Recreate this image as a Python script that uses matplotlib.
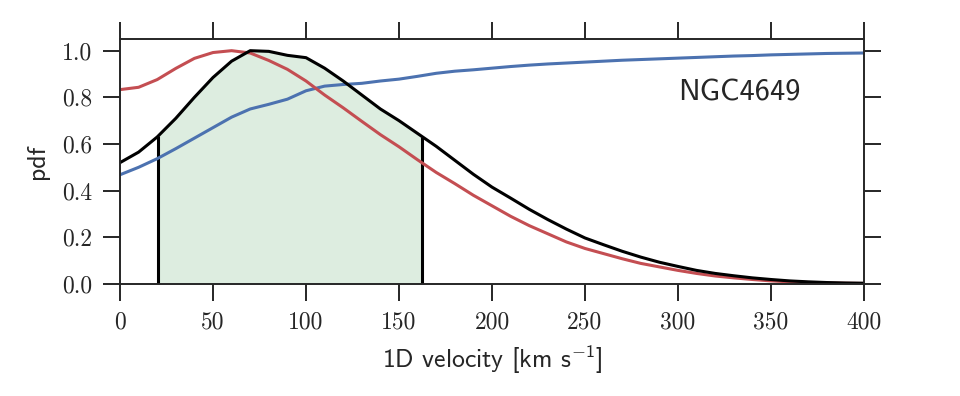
import matplotlib
matplotlib.use("Agg")
import matplotlib.pyplot as plt
import numpy as np

# velocity grid (km/s) and curves
velocity = [0, 10, 20, 30, 40, 50, 60, 70, 80, 90, 100, 110, 120, 130, 140, 150,
            160, 170, 180, 190, 200, 210, 220, 230, 240, 250, 260, 270, 280, 290,
            300, 310, 320, 330, 340, 350, 360, 370, 380, 390, 400]

pdf_black = [0.52, 0.565, 0.63, 0.71, 0.80, 0.885, 0.955, 1.0, 0.997, 0.98, 0.97,
             0.925, 0.87, 0.81, 0.75, 0.70, 0.645, 0.59, 0.53, 0.47, 0.415, 0.368,
             0.32, 0.276, 0.235, 0.197, 0.168, 0.14, 0.115, 0.093, 0.075, 0.058,
             0.045, 0.035, 0.026, 0.019, 0.013, 0.009, 0.006, 0.004, 0.003]

pdf_red = [0.833, 0.843, 0.876, 0.924, 0.967, 0.992, 1.0, 0.99, 0.958, 0.92, 0.87,
           0.81, 0.755, 0.697, 0.64, 0.588, 0.532, 0.478, 0.43, 0.38, 0.335, 0.29,
           0.25, 0.215, 0.18, 0.152, 0.13, 0.108, 0.088, 0.073, 0.058, 0.045,
           0.034, 0.026, 0.019, 0.013, 0.009, 0.006, 0.004, 0.003, 0.002]

cdf_blue = [0.468, 0.50, 0.537, 0.58, 0.625, 0.67, 0.715, 0.75, 0.77, 0.792, 0.828,
            0.848, 0.855, 0.86, 0.87, 0.878, 0.89, 0.903, 0.912, 0.918, 0.925,
            0.932, 0.938, 0.943, 0.947, 0.951, 0.955, 0.959, 0.962, 0.965, 0.968,
            0.971, 0.974, 0.977, 0.979, 0.982, 0.984, 0.986, 0.988, 0.989, 0.99]

interval_lo = 20.5
interval_hi = 162.5

plt.rcParams["axes.edgecolor"] = "#262626"
plt.rcParams["axes.linewidth"] = 1.4
plt.rcParams["mathtext.fontset"] = "custom"
plt.rcParams["mathtext.rm"] = "cmss10"
plt.rcParams["mathtext.it"] = "cmss10"
plt.rcParams["mathtext.sf"] = "cmss10"

fig = plt.figure(figsize=(9.6, 3.96), dpi=100)
ax = fig.add_axes([0.125, 0.283, 0.775, 0.6185])

v = np.array(velocity)
pb = np.array(pdf_black)
mask = (v >= interval_lo) & (v <= interval_hi)
vf = np.concatenate([[interval_lo], v[mask], [interval_hi]])
pf = np.interp(vf, v, pb)
ax.fill_between(vf, 0, pf, color="#55A868", alpha=0.2, lw=0)
ax.vlines([interval_lo, interval_hi], 0, [pf[0], pf[-1]], color="k", lw=2.2)

ax.plot(velocity, cdf_blue, color="#4C72B0", lw=2.2)
ax.plot(velocity, pdf_red, color="#C44E52", lw=2.2)
ax.plot(velocity, pdf_black, color="k", lw=2.2)

ax.set_xlim(0, 400)
ax.set_ylim(0, 1.05)
ax.set_xticks(np.arange(0, 401, 50))
ax.set_yticks(np.arange(0, 1.01, 0.2))
ax.set_xticklabels([str(t) for t in range(0, 401, 50)])
ax.set_yticklabels(["%.1f" % t for t in np.arange(0, 1.01, 0.2)])
ax.tick_params(direction="out", length=12, width=1.4, color="#262626",
               top=True, right=True, labelsize=17, pad=8, labelcolor="#262626")
for lab in ax.get_xticklabels() + ax.get_yticklabels():
    lab.set_family("cmr10")

ax.set_xlabel(r"1D velocity [km s$^{-1}$]", family="cmss10", fontsize=18.5,
              color="#262626", labelpad=7)
ax.set_ylabel("pdf", family="cmss10", fontsize=18.5, color="#262626", labelpad=9)
ax.text(300, 0.82, "NGC4649", family="cmss10", fontsize=22, color="#262626",
        va="center", ha="left")

fig.savefig("out.png", dpi=100)
